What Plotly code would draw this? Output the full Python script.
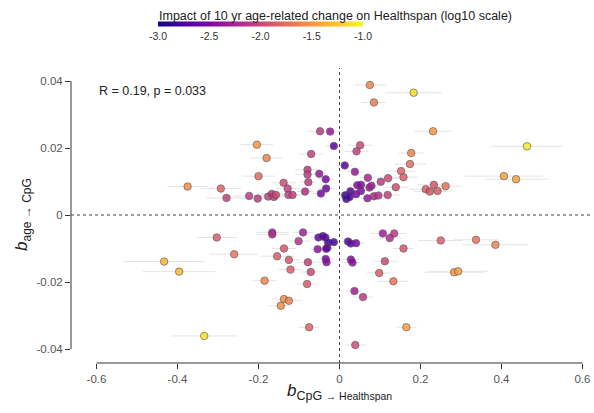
import plotly.graph_objects as go

# ---- data ----
b_cpg_health = [
    -0.204, -0.375, -0.293, -0.279, -0.223, -0.202, -0.200, 0.075, 0.183, 0.085,
    -0.048, -0.023, -0.014, -0.180, -0.070, 0.051, 0.042, 0.177, 0.174, 0.013,
    0.038, -0.079, -0.079, -0.050, -0.034, -0.077, -0.138, -0.128, -0.085, -0.046,
    -0.033, -0.176, -0.167, -0.162, -0.157, -0.126, -0.116, 0.070, 0.044, 0.053,
    0.074, 0.079, 0.102, 0.120, 0.139, 0.152, 0.158, 0.213, 0.014, 0.017,
    0.025, 0.027, 0.041, 0.053, 0.069, 0.085, 0.096, 0.119, 0.231, 0.463,
    0.406, 0.436, 0.223, 0.233, 0.242, 0.262,
    -0.303, -0.260, -0.433, -0.396, -0.334, -0.166, -0.166, -0.090, -0.101, -0.052,
    -0.041, -0.035, -0.028, -0.014, -0.030, -0.033, -0.054, -0.034, -0.032, -0.137,
    -0.154, -0.125, -0.078, -0.121, -0.071, -0.185, -0.080, -0.137, -0.125, -0.145,
    -0.075, 0.021, 0.028, 0.041, 0.028, 0.032, 0.037, 0.058, 0.039, 0.107,
    0.135, 0.124, 0.158, 0.112, 0.098, 0.133, 0.165, 0.250, 0.337, 0.385,
    0.283, 0.293,
]
b_age_cpg = [
    0.0210, 0.0085, 0.0079, 0.0051, 0.0057, 0.0049, 0.0116, 0.0388, 0.0365, 0.0336,
    0.0250, 0.0249, 0.0206, 0.0170, 0.0182, 0.0208, 0.0190, 0.0185, 0.0152, 0.0148,
    0.0129, 0.0135, 0.0121, 0.0123, 0.0107, 0.0098, 0.0096, 0.0079, 0.0070, 0.0064,
    0.0079, 0.0055, 0.0063, 0.0054, 0.0060, 0.0060, 0.0060, 0.0111, 0.0089, 0.0090,
    0.0082, 0.0087, 0.0099, 0.0110, 0.0083, 0.0131, 0.0113, 0.0077, 0.0059, 0.0048,
    0.0054, 0.0071, 0.0062, 0.0072, 0.0050, 0.0056, 0.0058, 0.0060, 0.0250, 0.0205,
    0.0116, 0.0107, 0.0070, 0.0090, 0.0072, 0.0086,
    -0.0067, -0.0117, -0.0139, -0.0169, -0.0361, -0.0052, -0.0058, -0.0052, -0.0078, -0.0067,
    -0.0063, -0.0067, -0.0082, -0.0081, -0.0098, -0.0101, -0.0102, -0.0131, -0.0141, -0.0100,
    -0.0123, -0.0134, -0.0141, -0.0163, -0.0170, -0.0196, -0.0206, -0.0251, -0.0256, -0.0271,
    -0.0335, -0.0079, -0.0085, -0.0084, -0.0133, -0.0142, -0.0227, -0.0245, -0.0388, -0.0055,
    -0.0055, -0.0069, -0.0100, -0.0138, -0.0173, -0.0198, -0.0335, -0.0076, -0.0074, -0.0089,
    -0.0171, -0.0168,
]
impact_log10 = [
    -1.50, -1.55, -1.80, -2.05, -2.10, -2.10, -1.75, -1.60, -1.15, -1.65,
    -2.10, -2.35, -2.65, -1.60, -2.05, -2.00, -2.05, -1.60, -1.75, -2.65,
    -2.35, -2.10, -2.10, -2.35, -2.50, -2.10, -1.95, -2.05, -2.20, -2.50,
    -2.55, -2.05, -2.10, -2.05, -2.00, -2.05, -2.05, -2.25, -2.45, -2.45,
    -2.35, -2.30, -2.10, -2.00, -1.95, -1.80, -1.85, -1.85, -2.85, -2.80,
    -2.75, -2.70, -2.50, -2.45, -2.35, -2.20, -2.15, -2.05, -1.50, -1.05,
    -1.45, -1.45, -1.90, -1.90, -1.85, -1.70,
    -1.85, -1.70, -1.35, -1.30, -1.10, -2.20, -2.20, -2.30, -2.15, -2.60,
    -2.70, -2.65, -2.80, -2.80, -2.60, -2.60, -2.40, -2.50, -2.45, -1.90,
    -1.85, -1.90, -2.05, -1.85, -2.00, -1.60, -1.85, -1.55, -1.60, -1.55,
    -1.80, -2.70, -2.65, -2.50, -2.45, -2.45, -2.30, -2.10, -1.95, -2.30,
    -2.10, -2.20, -1.90, -2.00, -1.85, -1.70, -1.45, -1.85, -1.70, -1.60,
    -1.50, -1.45,
]
b_cpg_health_err = [
    0.040, 0.050, 0.050, 0.050, 0.040, 0.040, 0.040, 0.040, 0.070, 0.030,
    0.030, 0.030, 0.020, 0.040, 0.030, 0.030, 0.030, 0.030, 0.040, 0.020,
    0.020, 0.030, 0.030, 0.020, 0.020, 0.020, 0.030, 0.030, 0.020, 0.020,
    0.020, 0.035, 0.035, 0.035, 0.035, 0.030, 0.030, 0.020, 0.020, 0.020,
    0.020, 0.020, 0.025, 0.030, 0.030, 0.035, 0.035, 0.040, 0.015, 0.015,
    0.015, 0.015, 0.020, 0.020, 0.020, 0.025, 0.025, 0.030, 0.046, 0.088,
    0.096, 0.080, 0.040, 0.040, 0.040, 0.040,
    0.050, 0.060, 0.099, 0.090, 0.082, 0.040, 0.040, 0.025, 0.030, 0.020,
    0.020, 0.020, 0.015, 0.015, 0.020, 0.020, 0.020, 0.020, 0.020, 0.030,
    0.040, 0.030, 0.025, 0.030, 0.025, 0.030, 0.025, 0.030, 0.030, 0.030,
    0.025, 0.015, 0.015, 0.020, 0.020, 0.020, 0.020, 0.025, 0.025, 0.030,
    0.030, 0.030, 0.025, 0.030, 0.030, 0.037, 0.025, 0.055, 0.055, 0.080,
    0.074, 0.074,
]
x_tick_vals = [-0.6, -0.4, -0.2, 0, 0.2, 0.4, 0.6]
x_tick_text = ["-0.6", "-0.4", "-0.2", "0", "0.2", "0.4", "0.6"]
y_tick_vals = [-0.04, -0.02, 0, 0.02, 0.04]
y_tick_text = ["-0.04", "-0.02", "0", "0.02", "0.04"]
cb_tick_vals = [-3.0, -2.5, -2.0, -1.5, -1.0]
cb_tick_text = ["-3.0", "-2.5", "-2.0", "-1.5", "-1.0"]
stat_text = "R = 0.19, p = 0.033"
cb_title = "Impact of 10 yr age-related change on Healthspan (log10 scale)"

# ---- layout geometry (pixels) ----
W, H = 594, 413
L, R, T, B = 71, 2, 68, 50
pw, ph = W - L - R, H - T - B
px_per_x = 405.0
px_per_y = 3350.0
x0_px, y0_px = 339.5, 215.0
x_range = [(L - x0_px) / px_per_x, (W - R - x0_px) / px_per_x]
y_range = [-(H - B - y0_px) / px_per_y, (y0_px - T) / px_per_y]

def paper_x(px):
    return (px - L) / pw

def paper_y(py):
    return (H - B - py) / ph

FONT = "Liberation Sans, Arial, sans-serif"

fig = go.Figure()
fig.add_trace(go.Scatter(
    x=b_cpg_health, y=b_age_cpg, mode="markers",
    error_x=dict(type="data", array=b_cpg_health_err, symmetric=True,
                 color="#e4e4e4", thickness=1, width=0),
    marker=dict(
        size=7.5, color=impact_log10, colorscale="Plasma", cmin=-3, cmax=-1,
        opacity=0.85, line=dict(color="#4a4a4a", width=0.7),
        colorbar=dict(
            orientation="h", lenmode="pixels", len=205, thickness=5,
            x=paper_x(260.5), xanchor="center", y=paper_y(30), yanchor="middle",
            xpad=0, ypad=0, outlinewidth=0, ticks="",
            tickvals=cb_tick_vals, ticktext=cb_tick_text,
            tickfont=dict(family=FONT, size=10.5, color="#333"),
        ),
    ),
    showlegend=False, hoverinfo="x+y",
))

shapes = [
    dict(type="line", xref="x", yref="paper", x0=0, x1=0, y0=0, y1=1,
         line=dict(color="#444", width=1, dash="3px,3px")),
    dict(type="line", xref="paper", yref="y", x0=0, x1=1, y0=0, y1=0,
         line=dict(color="#444", width=1, dash="3px,3px")),
    dict(type="line", xref="x", yref="paper", x0=-0.6, x1=0.6, y0=0, y1=0,
         line=dict(color="#333", width=1)),
    dict(type="line", xref="paper", yref="y", x0=0, x1=0, y0=-0.04, y1=0.04,
         line=dict(color="#333", width=1)),
]

annotations = [
    dict(text=stat_text, xref="x", yref="paper", x=-0.6, y=paper_y(91),
         xanchor="left", yanchor="middle", showarrow=False,
         font=dict(family=FONT, size=12.5, color="#222")),
    dict(text=cb_title, xref="paper", yref="paper", x=paper_x(157), y=paper_y(16),
         xanchor="left", yanchor="middle", showarrow=False,
         font=dict(family=FONT, size=12.5, color="#222")),
    dict(text="<i>b</i><sub><span style='font-size:12px'>age → CpG</span></sub>",
         xref="paper", yref="paper",
         x=paper_x(23), y=paper_y(215), xanchor="center", yanchor="middle",
         textangle=-90, showarrow=False,
         font=dict(family=FONT, size=17, color="#222")),
    dict(text="<i>b</i><sub><span style='font-size:12.5px'>CpG "
              "<span style='font-size:10.5px'>→ Healthspan</span></span></sub>",
         xref="x", yref="paper",
         x=0, y=paper_y(392), xanchor="center", yanchor="middle",
         showarrow=False, font=dict(family=FONT, size=17, color="#222")),
]

fig.update_layout(
    width=W, height=H, margin=dict(l=L, r=R, t=T, b=B, autoexpand=False),
    paper_bgcolor="white", plot_bgcolor="white",
    font=dict(family=FONT),
    shapes=shapes, annotations=annotations,
    xaxis=dict(range=x_range, showgrid=False, zeroline=False, showline=False,
               tickvals=x_tick_vals, ticktext=x_tick_text, ticks="outside",
               ticklen=5, tickcolor="#333",
               tickfont=dict(family=FONT, size=11.5, color="#555")),
    yaxis=dict(range=y_range, showgrid=False, zeroline=False, showline=False,
               tickvals=y_tick_vals, ticktext=y_tick_text, ticks="outside",
               ticklen=5, tickcolor="#333",
               tickfont=dict(family=FONT, size=11.5, color="#555")),
)

fig.write_html(
    "out.html",
    config={"displayModeBar": False},
    post_script="document.body.style.margin='0';document.body.style.overflow='hidden';",
)
